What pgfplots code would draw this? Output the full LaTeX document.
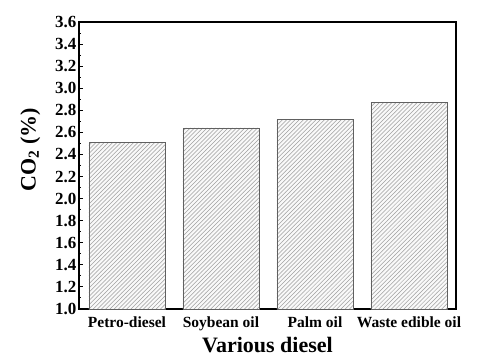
\documentclass[border=0pt]{standalone}
\usepackage{pgfplots}
\pgfplotsset{compat=1.18}
\usepackage{fontspec}
\setmainfont{Liberation Serif}
\usetikzlibrary{patterns}

% diagonal hatching with a wider line spacing
\pgfdeclarepatternformonly{wide hatch}{\pgfqpoint{-1pt}{-1pt}}{\pgfqpoint{5pt}{5pt}}{\pgfqpoint{4.2pt}{4.2pt}}{%
  \pgfsetlinewidth{0.5pt}%
  \pgfpathmoveto{\pgfqpoint{0pt}{0pt}}%
  \pgfpathlineto{\pgfqpoint{4.3pt}{4.3pt}}%
  \pgfusepath{stroke}%
}

\pgfplotstableread{
x  co2
0  2.51
1  2.64
2  2.72
3  2.87
}\codata

\begin{document}
\begin{tikzpicture}
\begin{axis}[
  name=ax,
  scale only axis,
  width=377pt, height=287pt,
  xmin=-0.51, xmax=3.5,
  ymin=1.0, ymax=3.6,
  ytick={1.0,1.2,...,3.61},
  minor y tick num=1,
  yticklabel style={font=\fontsize{17}{18}\selectfont\bfseries, inner sep=2.5pt,
    /pgf/number format/.cd,fixed,fixed zerofill,precision=1},
  xtick=data,
  xticklabels={Petro-diesel,Soybean oil,Palm oil,Waste edible oil},
  x tick style={draw=none},
  ytick pos=left,
  tick align=inside,
  major tick length=4pt,
  minor tick length=2.5pt,
  tick style={line width=1pt, black},
  axis line style={line width=1.3pt},
  /pgf/number format/assume math mode=true,
  xticklabel style={font=\fontsize{15.5}{17}\selectfont\bfseries, anchor=base, yshift=-14pt},
  xlabel={Various diesel},
  ylabel={CO\textsubscript{2} (\%)},
  label style={font=\fontsize{22}{24}\selectfont\bfseries},
  xlabel style={at={(axis description cs:0.5,0)}, anchor=base, yshift=-43pt},
  ylabel style={at={(axis description cs:-0.156,0.554)}, anchor=north, inner sep=0pt},
  ybar,
  bar width=0.81,
]
\addplot[draw=gray!75!black, line width=0.6pt, fill=gray!5,
  postaction={pattern=wide hatch, pattern color=gray!75}]
  table[x=x,y=co2]{\codata};
\end{axis}
\path ([xshift=-79pt,yshift=-47pt]ax.south west) rectangle ([xshift=23pt,yshift=22pt]ax.north east);
\end{tikzpicture}
\end{document}
